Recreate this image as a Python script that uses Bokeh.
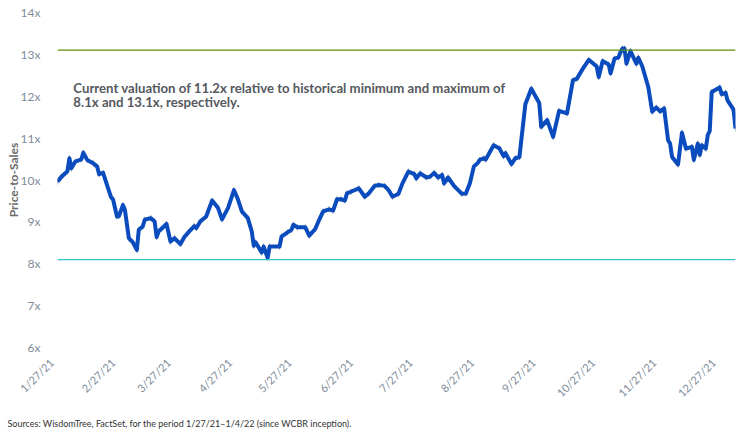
import math
import pandas as pd
from bokeh.plotting import figure
from bokeh.models import Range1d, FixedTicker, PrintfTickFormatter, Span, Label, Title, ColumnDataSource
from bokeh.embed import file_html
from bokeh.resources import INLINE

dates = [
    "2021-01-27", "2021-01-29", "2021-01-30", "2021-02-01", "2021-02-02", "2021-02-03", "2021-02-05",
    "2021-02-08", "2021-02-09", "2021-02-11", "2021-02-14", "2021-02-16", "2021-02-17", "2021-02-19",
    "2021-02-21", "2021-02-23", "2021-02-24", "2021-02-26", "2021-02-27", "2021-03-01", "2021-03-02",
    "2021-03-04", "2021-03-06", "2021-03-08", "2021-03-09", "2021-03-11", "2021-03-12", "2021-03-15",
    "2021-03-17", "2021-03-18", "2021-03-19", "2021-03-23", "2021-03-25", "2021-03-27", "2021-03-30",
    "2021-04-01", "2021-04-03", "2021-04-06", "2021-04-07", "2021-04-09", "2021-04-12", "2021-04-15",
    "2021-04-18", "2021-04-20", "2021-04-23", "2021-04-26", "2021-04-28", "2021-04-30", "2021-05-03",
    "2021-05-05", "2021-05-06", "2021-05-07", "2021-05-10", "2021-05-11", "2021-05-13", "2021-05-14",
    "2021-05-19", "2021-05-20", "2021-05-23", "2021-05-25", "2021-05-26", "2021-05-28", "2021-06-01",
    "2021-06-03", "2021-06-06", "2021-06-08", "2021-06-10", "2021-06-13", "2021-06-15", "2021-06-17",
    "2021-06-19", "2021-06-21", "2021-06-22", "2021-06-24", "2021-06-28", "2021-07-01", "2021-07-03",
    "2021-07-06", "2021-07-08", "2021-07-11", "2021-07-13", "2021-07-15", "2021-07-18", "2021-07-20",
    "2021-07-23", "2021-07-26", "2021-07-27", "2021-07-29", "2021-08-01", "2021-08-03", "2021-08-05",
    "2021-08-07", "2021-08-09", "2021-08-10", "2021-08-12", "2021-08-15", "2021-08-19", "2021-08-21",
    "2021-08-23", "2021-08-25", "2021-08-27", "2021-08-28", "2021-08-30", "2021-08-31", "2021-09-04",
    "2021-09-07", "2021-09-09", "2021-09-10", "2021-09-13", "2021-09-15", "2021-09-17", "2021-09-20",
    "2021-09-23", "2021-09-27", "2021-09-28", "2021-10-01", "2021-10-04", "2021-10-07", "2021-10-11",
    "2021-10-14", "2021-10-16", "2021-10-19", "2021-10-22", "2021-10-26", "2021-10-27", "2021-10-29",
    "2021-11-01", "2021-11-02", "2021-11-04", "2021-11-06", "2021-11-07", "2021-11-08", "2021-11-09",
    "2021-11-10", "2021-11-12", "2021-11-15", "2021-11-16", "2021-11-18", "2021-11-21", "2021-11-23",
    "2021-11-25", "2021-11-27", "2021-11-29", "2021-12-01", "2021-12-02", "2021-12-03", "2021-12-06",
    "2021-12-08", "2021-12-10", "2021-12-13", "2021-12-14", "2021-12-16", "2021-12-17", "2021-12-18",
    "2021-12-20", "2021-12-21", "2021-12-22", "2021-12-23", "2021-12-27", "2021-12-28", "2021-12-30",
    "2021-12-31", "2022-01-03", "2022-01-04",
]
price_to_sales = [
    9.96, 10.08, 10.12, 10.21, 10.52, 10.28, 10.44,
    10.49, 10.65, 10.48, 10.40, 10.32, 10.14, 10.17,
    9.88, 9.59, 9.54, 9.13, 9.14, 9.40, 9.29,
    8.61, 8.51, 8.33, 8.81, 8.89, 9.05, 9.09,
    9.01, 8.64, 8.77, 8.95, 8.53, 8.61, 8.47,
    8.64, 8.75, 8.90, 8.85, 9.01, 9.13, 9.51,
    9.33, 9.06, 9.33, 9.76, 9.54, 9.25, 9.09,
    8.77, 8.43, 8.51, 8.27, 8.41, 8.14, 8.41,
    8.41, 8.65, 8.75, 8.81, 8.93, 8.87, 8.87,
    8.67, 8.83, 9.05, 9.25, 9.30, 9.27, 9.54,
    9.54, 9.51, 9.68, 9.72, 9.80, 9.60, 9.68,
    9.86, 9.88, 9.86, 9.76, 9.60, 9.67, 9.92,
    10.20, 10.14, 10.04, 10.16, 10.06, 10.08, 10.17,
    10.06, 10.12, 9.92, 10.06, 9.86, 9.67, 9.68,
    9.92, 10.32, 10.41, 10.48, 10.52, 10.49, 10.83,
    10.75, 10.57, 10.64, 10.38, 10.52, 10.55, 11.81,
    12.18, 11.84, 11.27, 11.43, 11.03, 11.65, 11.59,
    12.38, 12.42, 12.66, 12.87, 12.71, 12.46, 12.84,
    12.76, 12.55, 12.90, 12.93, 13.05, 13.14, 13.14,
    12.78, 13.08, 12.78, 12.92, 12.71, 12.22, 11.63,
    11.73, 11.64, 11.71, 10.95, 10.87, 10.55, 10.37,
    11.13, 10.75, 10.79, 10.48, 10.87, 10.60, 10.83,
    10.75, 11.07, 11.17, 12.10, 12.21, 12.05, 12.08,
    11.90, 11.68, 11.23,
]

y_ticks = [6, 7, 8, 9, 10, 11, 12, 13, 14]
x_tick_dates = ["2021-01-27", "2021-02-27", "2021-03-27", "2021-04-27", "2021-05-27", "2021-06-27",
                "2021-07-27", "2021-08-27", "2021-09-27", "2021-10-27", "2021-11-27", "2021-12-27"]
x_tick_labels = ["1/27/21", "2/27/21", "3/27/21", "4/27/21", "5/27/21", "6/27/21",
                 "7/27/21", "8/27/21", "9/27/21", "10/27/21", "11/27/21", "12/27/21"]
hist_min = 8.1
hist_max = 13.1
period_start = "2021-01-27"
period_end = "2022-01-04"

y_axis_title = "Price-to-Sales"
annotation_lines = [
    "Current valuation of 11.2x relative to historical minimum and maximum of",
    "8.1x and 13.1x, respectively.",
]
source_text = "Sources: WisdomTree, FactSet, for the period 1/27/21\u20131/4/22 (since WCBR inception)."

FONT = "Lato"
TICK_COLOR = "#808c9a"
LABEL_PAD = "\u00a0\u00a0\u00a0"  # trailing no-break spaces so the rotated label ends just left of its tick


def ms(d):
    return pd.Timestamp(d).value / 1e6


src = ColumnDataSource(dict(x=pd.to_datetime(dates), y=price_to_sales,
                            lo=[v - 0.07 for v in price_to_sales],
                            hi=[v + 0.07 for v in price_to_sales]))

p = figure(width=742, height=437, x_axis_type="datetime",
           x_range=Range1d(pd.Timestamp(period_start), pd.Timestamp(period_end)),
           y_range=Range1d(6, 14),
           output_backend="svg", toolbar_location=None,
           min_border_left=57, min_border_right=7, min_border_top=12, min_border_bottom=89)
p.outline_line_color = None
p.background_fill_color = "white"
p.border_fill_color = "white"
p.xgrid.grid_line_color = None
p.ygrid.grid_line_color = None

# min / max reference lines
p.add_layout(Span(location=hist_max, dimension="width", line_color="#5f8f0c", line_width=1.2))
p.add_layout(Span(location=hist_min, dimension="width", line_color="#35c3cc", line_width=1.3))

p.segment(x0="x", y0="lo", x1="x", y1="hi", source=src, line_color="#8a8f99", line_width=1)
p.line(x="x", y="y", source=src, line_color="#0a4cbd", line_width=4, line_join="round")

# y axis
p.yaxis.ticker = FixedTicker(ticks=y_ticks)
p.yaxis.formatter = PrintfTickFormatter(format="%dx")
p.yaxis.axis_line_color = None
p.yaxis.major_tick_line_color = None
p.yaxis.minor_tick_line_color = None
p.yaxis.major_tick_out = 0
p.yaxis.major_tick_in = 0
p.yaxis.major_label_standoff = 17
p.yaxis.major_label_text_font = FONT
p.yaxis.major_label_text_font_size = "12px"
p.yaxis.major_label_text_color = TICK_COLOR
p.yaxis.axis_label = y_axis_title
p.yaxis.axis_label_text_font = FONT
p.yaxis.axis_label_text_font_style = "bold"
p.yaxis.axis_label_text_font_size = "12px"
p.yaxis.axis_label_text_color = "#6b6b6b"
p.yaxis.axis_label_standoff = -3

# x axis
tick_ms = [ms(d) for d in x_tick_dates]
p.xaxis.ticker = FixedTicker(ticks=tick_ms)
p.xaxis.major_label_overrides = {t: lab + LABEL_PAD for t, lab in zip(tick_ms, x_tick_labels)}
p.xaxis.major_label_orientation = math.pi / 4
p.xaxis.axis_line_color = None
p.xaxis.major_tick_line_color = None
p.xaxis.minor_tick_line_color = None
p.xaxis.major_tick_out = 0
p.xaxis.major_tick_in = 0
p.xaxis.major_label_standoff = 7
p.xaxis.major_label_text_font = FONT
p.xaxis.major_label_text_font_size = "11px"
p.xaxis.major_label_text_color = TICK_COLOR

# annotation
p.add_layout(Label(x=ms("2021-02-04"), y=12.40, text=annotation_lines[0], text_baseline="top",
                   text_font=FONT, text_font_style="bold", text_font_size="13.2px", text_color="#55595e"))
p.add_layout(Label(x=ms("2021-02-04"), y=12.06, text=annotation_lines[1], text_baseline="top",
                   text_font=FONT, text_font_style="bold", text_font_size="13.2px", text_color="#55595e"))

# source note
p.add_layout(Title(text=source_text, align="left", offset=-50, standoff=18,
                   text_font=FONT, text_font_size="9px", text_font_style="normal",
                   text_color="#333333"), "below")

open("out.html", "w").write(file_html(p, INLINE))
